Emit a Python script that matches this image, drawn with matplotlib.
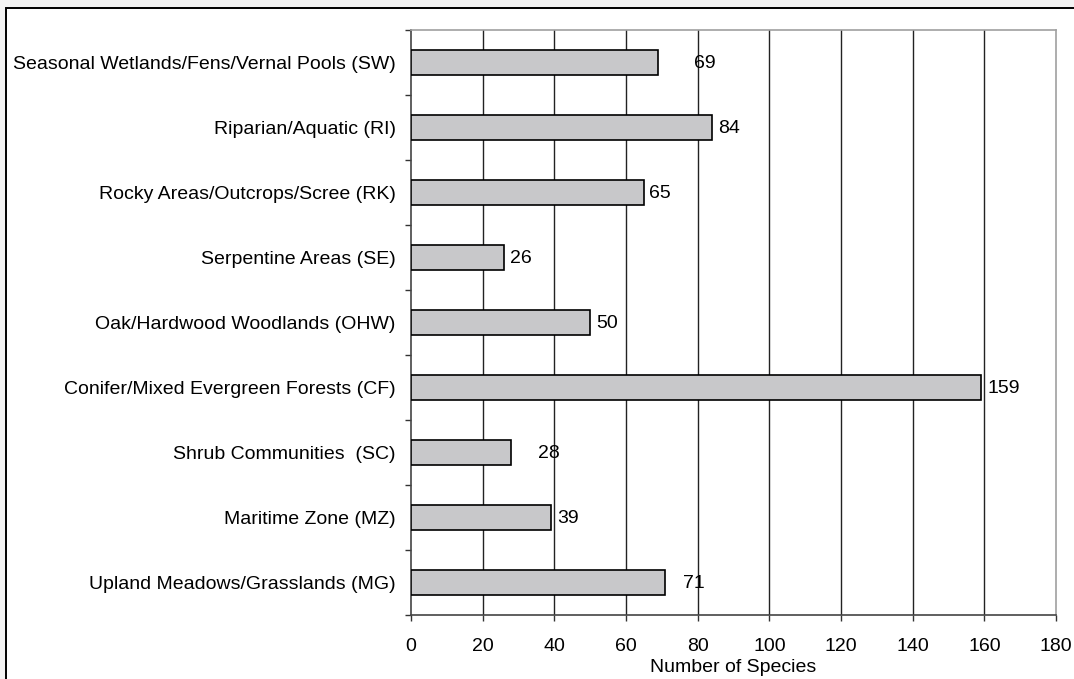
"""Species count per habitat type, horizontal bar chart."""

import matplotlib

matplotlib.use("Agg")
import matplotlib.pyplot as plt  # noqa: E402
from matplotlib.patches import Rectangle  # noqa: E402

HABITATS = [
    "Seasonal Wetlands/Fens/Vernal Pools (SW)",
    "Riparian/Aquatic (RI)",
    "Rocky Areas/Outcrops/Scree (RK)",
    "Serpentine Areas (SE)",
    "Oak/Hardwood Woodlands (OHW)",
    "Conifer/Mixed Evergreen Forests (CF)",
    "Shrub Communities  (SC)",
    "Maritime Zone (MZ)",
    "Upland Meadows/Grasslands (MG)",
]
SPECIES = [69, 84, 65, 26, 50, 159, 28, 39, 71]
X_TICKS = [0, 20, 40, 60, 80, 100, 120, 140, 160, 180]

# label offsets (points) as placed in the original, not all the same
LABEL_DX = [26, 4.5, 4, 4.5, 4.5, 5, 19, 4.5, 13]

W, H = 1074, 679
plt.rcParams["font.family"] = ["Liberation Sans", "DejaVu Sans"]
plt.rcParams["font.size"] = 14

fig = plt.figure(figsize=(W / 100, H / 100), dpi=100, facecolor="#f3f3f3")
fig.patches.append(
    Rectangle((6 / W, -0.1), 1.2, 1.1 - 8 / H, transform=fig.transFigure,
              facecolor="white", edgecolor="black", lw=1.4, zorder=-10)
)

ax = fig.add_axes([411 / W, 1 - 615 / H, (1056 - 411) / W, (615 - 30) / H])
ax.set_facecolor("white")

ypos = list(range(len(HABITATS)))
ax.barh(ypos, SPECIES, height=0.39, color="#c8c8ca", edgecolor="black",
        linewidth=1.2, zorder=3)
for y, v, dx in zip(ypos, SPECIES, LABEL_DX):
    ax.annotate(str(v), (v, y), xytext=(dx, -0.5), textcoords="offset points",
                ha="left", va="center", fontsize=14, zorder=4)

ax.set_xlim(0, 180)
ax.set_ylim(len(HABITATS) - 0.5, -0.5)
ax.set_xticks(X_TICKS)
ax.set_yticks(ypos)
ax.set_yticklabels(HABITATS)
ax.set_yticks([i - 0.5 for i in range(len(HABITATS) + 1)], minor=True)
ax.tick_params(axis="y", which="major", length=0, pad=11)
ax.tick_params(axis="y", which="minor", length=4.5, width=1, color="#333333")
ax.tick_params(axis="x", length=4.5, width=1, color="#333333", pad=12)
ax.set_xlabel("Number of Species", labelpad=3)

for x in X_TICKS[1:-1]:
    ax.axvline(x, color="#222222", lw=1, zorder=1)

ax.spines["top"].set_color("#a0a0a0")
ax.spines["right"].set_color("#a0a0a0")
ax.spines["left"].set_color("#444444")
ax.spines["bottom"].set_color("#444444")
for s in ax.spines.values():
    s.set_linewidth(1.2)

fig.savefig("out.png", dpi=100, facecolor=fig.get_facecolor())
